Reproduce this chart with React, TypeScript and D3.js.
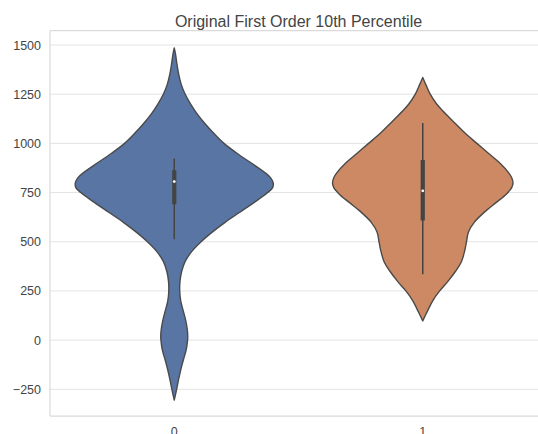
import React from "react";
import * as d3 from "d3";

const title = "Original First Order 10th Percentile";
const categories = ["0", "1"];
const yTicks = [-250, 0, 250, 500, 750, 1000, 1250, 1500];

// violin density profiles (value, relative width)
const violin0Values = [1485, 1450, 1400, 1350, 1300, 1250, 1200, 1150, 1100, 1050, 1000, 950, 900, 850, 825, 800, 775, 750, 700, 650, 600, 550, 500, 450, 400, 350, 300, 250, 200, 150, 100, 50, 20, 0, -50, -100, -150, -200, -250, -305];
const violin0Density = [0, 0.014, 0.028, 0.045, 0.07, 0.11, 0.165, 0.23, 0.31, 0.4, 0.5, 0.63, 0.775, 0.915, 0.97, 0.995, 0.99, 0.94, 0.805, 0.66, 0.515, 0.385, 0.27, 0.175, 0.11, 0.075, 0.058, 0.055, 0.065, 0.09, 0.115, 0.132, 0.136, 0.134, 0.12, 0.092, 0.066, 0.044, 0.024, 0];

const violin1Values = [1335, 1300, 1250, 1200, 1166, 1100, 1050, 1000, 950, 900, 850, 825, 800, 775, 742, 700, 657, 600, 550, 500, 450, 400, 350, 300, 250, 200, 150, 98];
const violin1Density = [0, 0.03, 0.075, 0.14, 0.2, 0.33, 0.43, 0.545, 0.66, 0.775, 0.865, 0.895, 0.908, 0.895, 0.84, 0.74, 0.635, 0.52, 0.46, 0.44, 0.42, 0.39, 0.33, 0.255, 0.17, 0.1, 0.05, 0];

// box stats: [whiskerLow, q1, median, q3, whiskerHigh]
const violin0Stats = [513, 691, 806, 864, 923];
const violin1Stats = [335, 608, 759, 916, 1103];

const colors = ["#5975a4", "#cc8963"];

export default function App() {
  const W = 538, H = 434;
  const left = 50, right = 547, top = 30.5, bottom = 416;
  const y = d3.scaleLinear().domain([-250, 1500]).range([389.3, 45]);
  const x = d3.scaleBand().domain(categories).range([left, right]).padding(0);
  const w = d3.scaleLinear().domain([0, 1]).range([0, x.bandwidth() * 0.4]);

  const violins = [
    { cat: categories[0], values: violin0Values, dens: violin0Density, stats: violin0Stats, color: colors[0] },
    { cat: categories[1], values: violin1Values, dens: violin1Density, stats: violin1Stats, color: colors[1] },
  ];

  const font = "'Liberation Sans', Arial, sans-serif";
  const textColor = "#444";

  return (
    <svg width={W} height={H} style={{ position: "absolute", left: 0, top: 0, background: "#fff" }} fontFamily={font}>
      <defs>
        <clipPath id="plotclip">
          <rect x={left} y={top} width={right - left} height={bottom - top} />
        </clipPath>
      </defs>
      {yTicks.map((t) => (
        <line key={"g" + t} x1={left} x2={right} y1={y(t)} y2={y(t)} stroke="#e3e3e3" strokeWidth={1} />
      ))}
      {/* spines */}
      <line x1={left} x2={left} y1={top} y2={bottom} stroke="#dadada" strokeWidth={1.25} />
      <line x1={left} x2={right} y1={top} y2={top} stroke="#dadada" strokeWidth={1.25} />
      <line x1={left} x2={right} y1={bottom} y2={bottom} stroke="#dadada" strokeWidth={1.25} />
      <g clipPath="url(#plotclip)">
        {violins.map((v) => {
          const cx = (x(v.cat) as number) + x.bandwidth() / 2;
          const pts = v.values.map((val, i) => ({ v: val, d: v.dens[i] }));
          const area = d3
            .area<{ v: number; d: number }>()
            .y((d) => y(d.v))
            .x0((d) => cx - w(d.d))
            .x1((d) => cx + w(d.d))
            .curve(d3.curveCatmullRom.alpha(0.5));
          const [wl, q1, med, q3, wh] = v.stats;
          return (
            <g key={v.cat}>
              <path d={area(pts) || ""} fill={v.color} stroke="#4a4a4a" strokeWidth={1.4} strokeLinejoin="round" />
              <line x1={cx} x2={cx} y1={y(wl)} y2={y(wh)} stroke="#444" strokeWidth={1.5} />
              <line x1={cx} x2={cx} y1={y(q1)} y2={y(q3)} stroke="#444" strokeWidth={4.2} />
              <circle cx={cx} cy={y(med)} r={1.4} fill="#fff" />
            </g>
          );
        })}
      </g>
      {yTicks.map((t) => (
        <text key={"t" + t} x={41} y={y(t)} dy="0.36em" textAnchor="end" fontSize={12.5} fill={textColor}>
          {t < 0 ? "\u2212" + Math.abs(t) : String(t)}
        </text>
      ))}
      {categories.map((c) => (
        <text key={"x" + c} x={(x(c) as number) + x.bandwidth() / 2} y={435.5} textAnchor="middle" fontSize={12.5} fill={textColor}>
          {c}
        </text>
      ))}
      <text x={(left + right) / 2} y={26.5} textAnchor="middle" fontSize={16} fill={textColor}>
        {title}
      </text>
    </svg>
  );
}
